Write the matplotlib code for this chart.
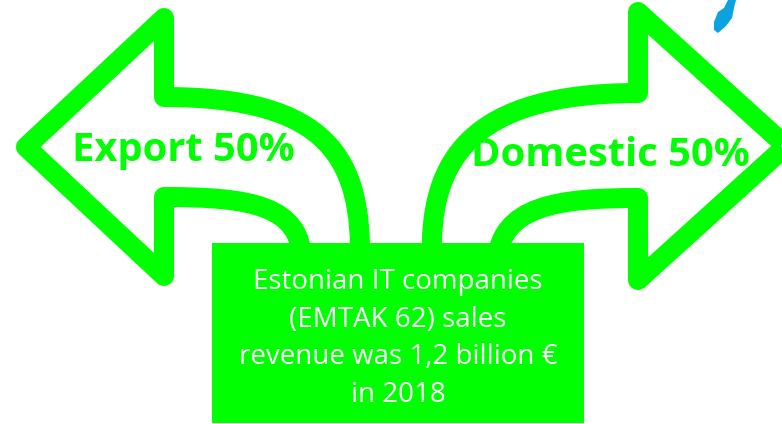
import matplotlib.pyplot as plt
from matplotlib.path import Path
from matplotlib.patches import PathPatch, Rectangle, Polygon

# shares of sales revenue
labels = ["Export", "Domestic"]
shares = [50, 50]
box_lines = ["Estonian IT companies", "(EMTAK 62) sales",
             "revenue was 1,2 billion €", "in 2018"]

green = "#00ff00"

fig = plt.figure(figsize=(7.82, 4.24), dpi=100)
ax = fig.add_axes([0, 0, 1, 1])
ax.set_xlim(0, 782)
ax.set_ylim(424, 0)
ax.axis("off")

C4 = Path.CURVE4
L = Path.LINETO
M = Path.MOVETO

# left arrow (export), centre line of the outline
left_pts = [(360, 262), (362, 160), (330, 97), (164, 97),
            (164, 18), (26, 147), (164, 276), (164, 197),
            (250, 197), (302, 205), (302, 262)]
left_codes = [M, C4, C4, C4, L, L, L, L, C4, C4, C4]

# right arrow (domestic)
right_pts = [(432, 262), (428, 160), (470, 93), (638, 93),
             (638, 12), (786, 146), (638, 280), (638, 198),
             (560, 198), (500, 205), (497, 262)]
right_codes = left_codes

for pts, codes in [(left_pts, left_codes), (right_pts, right_codes)]:
    ax.add_patch(PathPatch(Path(pts, codes), facecolor="none", edgecolor=green,
                           lw=14.4, joinstyle="round", capstyle="butt"))

ax.add_patch(Rectangle((212, 243), 372, 180, facecolor=green, edgecolor="none", zorder=3))

ax.text(183, 150, f"{labels[0]} {shares[0]}%", color=green, fontsize=28.7,
        fontweight="bold", family="Open Sans", ha="center", va="center")
ax.text(610, 155, f"{labels[1]} {shares[1]}%", color=green, fontsize=28.7,
        fontweight="bold", family="Open Sans", ha="center", va="center")

for i, line in enumerate(box_lines):
    ax.text(398, 282 + i * 37.7, line, color="white", fontsize=20,
            family="Open Sans", ha="center", va="center", zorder=4)

# small blue mark top right
ax.add_patch(Polygon([(714, 22), (718, 12), (724, 8), (728, 0), (736, 0),
                      (734, 8), (732, 18), (726, 26), (718, 33), (714, 30)],
                     closed=True, facecolor="#0ba2e0", edgecolor="none"))

fig.savefig("out.png", dpi=100)
